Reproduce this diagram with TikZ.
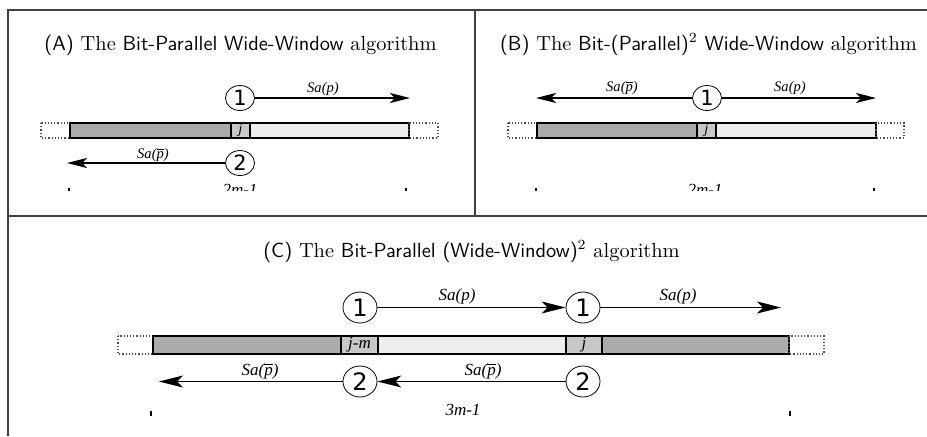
\documentclass[tikz,border=0pt]{standalone}
\usepackage{fontspec}
\newfontfamily\labfont{Liberation Serif}
\newfontfamily\numfont{DejaVu Sans}
\usetikzlibrary{positioning, arrows.meta, shapes.geometric}

\begin{document}
\begin{tikzpicture}[
        x=0.5pt, y=-0.5pt,
        frame/.style={draw=black!75, line width=0.8pt},
        title/.style={anchor=base, inner sep=0pt, font=\fontsize{10.2}{12}\selectfont},
        num/.style={draw, ellipse, inner sep=0pt, minimum width=14.5pt, minimum height=12.5pt, fill=white, font=\numfont\fontsize{10.5}{12}\selectfont},
        bignum/.style={num, minimum width=17pt, minimum height=15.5pt, font=\numfont\fontsize{12}{13}\selectfont},
        lab/.style={inner sep=0pt, font=\labfont\itshape\fontsize{7.3}{8}\selectfont},
        biglab/.style={inner sep=0pt, font=\labfont\itshape\fontsize{8.5}{9}\selectfont},
        dim/.style={anchor=base, inner sep=0pt, font=\labfont\itshape\fontsize{8.5}{9}\selectfont},
        arrow/.style={-{Stealth[length=10pt, width=5pt, inset=2.5pt]}, line width=0.6pt},
        bigarrow/.style={-{Stealth[length=12pt, width=6pt, inset=3pt]}, line width=0.6pt},
        dark/.style={draw, line width=0.6pt, fill=black!33},
        mid/.style={draw, line width=0.6pt, fill=black!22},
        light/.style={draw, line width=0.6pt, fill=black!7},
        ghost/.style={draw=black!70, densely dotted, line width=0.6pt}
    ]
    \useasboundingbox (0,0) rectangle (927,436);

    % frames
    \draw[frame] (8,436) -- (8,10) -- (927,10);
    \draw[frame] (475,10) -- (475,216);
    \draw[frame] (8,216) -- (927,216);

    % (A)
    \node[title] (TitleA) at (240.5,50) {\textsf{(A)} The \textsf{Bit-Parallel Wide-Window} algorithm};
    \draw[ghost] (41,123) rectangle (70,138);
    \draw[dark] (70,123) rectangle (231,138);
    \draw[mid] (231,123) rectangle (250,138);
    \draw[light] (250,123) rectangle (409,138);
    \draw[ghost] (409,123) rectangle (438,138);
    \node[lab] (JA) at (240.5,130.5) {j};

    \node[num] (OneA) at (240,98) {1};
    \coordinate (EndA1) at (410,98);
    \draw[arrow] (OneA) -- (EndA1);
    \node[lab] (SaA1) at (323,89) {Sa(p)};

    \node[num] (TwoA) at (240,163) {2};
    \coordinate (EndA2) at (67,163);
    \draw[arrow] (TwoA) -- (EndA2);
    \node[lab] (SaA2) at (153,155) {Sa($\overline{\mbox{p}}$)};

    \begin{scope}
        \clip (8,175) rectangle (475,190);
        \node[dim] (DimA) at (240,195) {2m-1};
        \draw[line width=0.6pt] (69,188) -- (69,192);
        \draw[line width=0.6pt] (406,188) -- (406,192);
    \end{scope}

    % (B)
    \node[title] (TitleB) at (708.5,50) {\textsf{(B)} The \textsf{Bit-(Parallel)}$^2$ \textsf{Wide-Window} algorithm};
    \draw[ghost] (508,123) rectangle (537,138);
    \draw[dark] (537,123) rectangle (697,138);
    \draw[mid] (697,123) rectangle (716,138);
    \draw[light] (716,123) rectangle (876,138);
    \draw[ghost] (876,123) rectangle (904,138);
    \node[lab] (JB) at (706.5,130.5) {j};

    \node[num] (OneB) at (707,98) {1};
    \coordinate (EndB1) at (876,98);
    \coordinate (EndB2) at (536,98);
    \draw[arrow] (OneB) -- (EndB1);
    \draw[arrow] (OneB) -- (EndB2);
    \node[lab] (SaB1) at (790,88) {Sa(p)};
    \node[lab] (SaB2) at (622,88) {Sa($\overline{\mbox{p}}$)};

    \begin{scope}
        \clip (475,175) rectangle (927,190);
        \node[dim] (DimB) at (705,195) {2m-1};
        \draw[line width=0.6pt] (536,188) -- (536,192);
        \draw[line width=0.6pt] (874,188) -- (874,192);
    \end{scope}

    % (C)
    \node[title] (TitleC) at (471.5,257) {\textsf{(C)} The \textsf{Bit-Parallel (Wide-Window)}$^2$ algorithm};
    \draw[ghost] (118,336) rectangle (153,354);
    \draw[dark] (153,336) rectangle (341,354);
    \draw[mid] (341,336) rectangle (378,354);
    \draw[light] (378,336) rectangle (566,354);
    \draw[mid] (566,336) rectangle (602,354);
    \draw[dark] (602,336) rectangle (789,354);
    \draw[ghost] (789,336) rectangle (824,354);
    \node[biglab] (JmC) at (359.5,345) {j-m};
    \node[biglab] (JC) at (584,345) {j};

    \node[bignum] (OneC) at (360,307.5) {1};
    \node[bignum] (OneD) at (583,307.5) {1};
    \coordinate (EndC1) at (781,307.5);
    \draw[bigarrow] (OneC) -- (OneD);
    \draw[bigarrow] (OneD) -- (EndC1);
    \node[biglab] (SaC1) at (457,296) {Sa(p)};
    \node[biglab] (SaC2) at (678,296) {Sa(p)};

    \node[bignum] (TwoC) at (360,381.5) {2};
    \node[bignum] (TwoD) at (583,381.5) {2};
    \coordinate (EndC2) at (159,381.5);
    \draw[bigarrow] (TwoC) -- (EndC2);
    \draw[bigarrow] (TwoD) -- (TwoC);
    \node[biglab] (SaC3) at (260,371) {Sa($\overline{\mbox{p}}$)};
    \node[biglab] (SaC4) at (483,371) {Sa($\overline{\mbox{p}}$)};

    \node[dim] (DimC) at (463,415) {3m-1};
    \draw[line width=0.6pt] (151,411) -- (151,416);
    \draw[line width=0.6pt] (790,411) -- (790,416);
\end{tikzpicture}
\end{document}
